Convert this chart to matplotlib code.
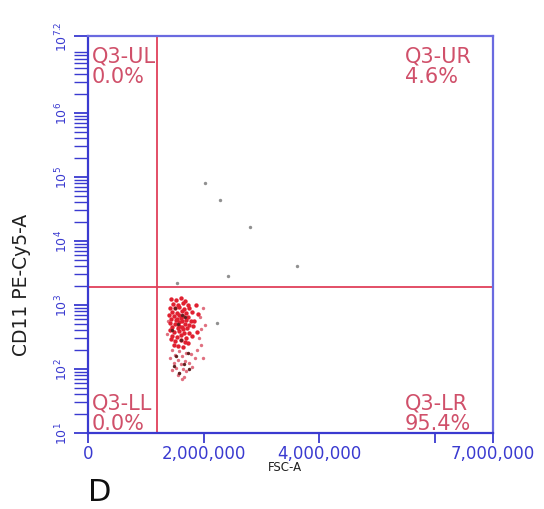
import numpy as np
import matplotlib
matplotlib.use('Agg')
import matplotlib.pyplot as plt
from matplotlib.ticker import FixedLocator, LogLocator, NullFormatter

plt.rcParams['font.family'] = 'DejaVu Sans'

# FSC-A (x) and CD11 PE-Cy5-A (y)
core_fsc = [1.43, 1.52, 1.60, 1.68, 1.47, 1.56, 1.64, 1.72, 1.41, 1.50, 1.58, 1.66, 1.75,
            1.45, 1.53, 1.62, 1.70, 1.80, 1.40, 1.48, 1.57, 1.65, 1.73, 1.44, 1.52, 1.60,
            1.69, 1.78, 1.42, 1.50, 1.58, 1.67, 1.75, 1.46, 1.55, 1.63, 1.71, 1.82, 1.41,
            1.49, 1.58, 1.66, 1.74, 1.45, 1.53, 1.61, 1.69, 1.79, 1.43, 1.51, 1.60, 1.68,
            1.48, 1.56, 1.64, 1.72, 1.54, 1.62, 1.57, 1.65, 1.86, 1.90, 1.84, 1.88]
core_cd11 = [1250, 1180, 1300, 1150, 1050, 1000, 1080, 980, 900, 880, 920, 860, 900,
             780, 760, 800, 740, 780, 690, 660, 700, 680, 650, 600, 580, 620,
             590, 560, 520, 500, 540, 510, 490, 450, 430, 460, 440, 470, 400,
             380, 390, 370, 360, 330, 320, 340, 310, 330, 290, 270, 280, 260,
             240, 230, 220, 250, 610, 560, 470, 420, 1000, 720, 560, 380]

tail_fsc = [1.45, 1.58, 1.70, 1.50, 1.62, 1.78, 1.42, 1.55, 1.67, 1.85, 1.48, 1.60, 1.74,
            1.52, 1.65, 1.80, 1.46, 1.58, 1.70, 1.55, 1.66, 1.62, 1.88, 1.96, 1.93, 1.92,
            1.38, 1.37, 1.98, 1.95, 2.02, 1.99]
tail_cd11 = [200, 190, 180, 165, 160, 170, 150, 140, 135, 150, 125, 118, 122,
             105, 100, 108, 95, 88, 92, 80, 75, 70, 200, 420, 650, 300,
             560, 350, 900, 240, 480, 150]

dark_fsc = [1.50, 1.62, 1.55, 1.68, 1.45, 1.60, 1.72, 1.52, 1.66, 1.48, 1.75, 1.58]
dark_cd11 = [900, 700, 500, 640, 400, 280, 180, 160, 120, 110, 100, 85]

out_fsc = [2.02, 2.28, 2.80, 3.61, 2.42, 1.54, 2.23]
out_cd11 = [81000, 43000, 16600, 4000, 2800, 2200, 525]

gate_x = 1.19e6
gate_y = 1900

quad_labels = ['Q3-UL\n0.0%', 'Q3-UR\n4.6%', 'Q3-LL\n0.0%', 'Q3-LR\n95.4%']

x_ticks = [0, 2e6, 4e6, 6e6, 7e6]
x_ticklabels = ['0', '2,000,000', '4,000,000', '', '7,000,000']
y_ticks = [1e1, 1e2, 1e3, 1e4, 1e5, 1e6, 10 ** 7.2]
y_ticklabels = ['$10^1$', '$10^2$', '$10^3$', '$10^4$', '$10^5$', '$10^6$', '$10^{7.2}$']

blue = '#3a3ad0'
red = '#e0405a'
txt_red = '#d0506a'

fig = plt.figure(figsize=(5.44, 5.10), dpi=100)
ax = fig.add_axes([88 / 544, 76 / 510, 405 / 544, 397 / 510])

ax.set_xlim(0, 7e6)
ax.set_yscale('log')
ax.set_ylim(10, 10 ** 7.2)

ax.scatter(np.array(tail_fsc) * 1e6, tail_cd11, s=6, color='#e07080', lw=0)
ax.scatter(np.array(core_fsc) * 1e6, core_cd11, s=10, color='#e02030', lw=0)
ax.scatter(np.array(dark_fsc) * 1e6, dark_cd11, s=6, color='#602020', lw=0)
ax.scatter(np.array(out_fsc) * 1e6, out_cd11, s=6, color='#909090', lw=0)

ax.axvline(gate_x, color=red, lw=1.3)
ax.axhline(gate_y, color=red, lw=1.3)

for s in ['left', 'bottom']:
    ax.spines[s].set_color(blue)
    ax.spines[s].set_linewidth(1.6)
for s in ['top', 'right']:
    ax.spines[s].set_color('#6a6ae0')
    ax.spines[s].set_linewidth(1.6)

ax.xaxis.set_major_locator(FixedLocator(x_ticks))
ax.set_xticklabels(x_ticklabels)
ax.yaxis.set_major_locator(FixedLocator(y_ticks))
ax.set_yticklabels(y_ticklabels, rotation=90, va='center')
ax.yaxis.set_minor_locator(LogLocator(base=10, subs=np.arange(2, 10), numticks=20))
ax.yaxis.set_minor_formatter(NullFormatter())

ax.tick_params(axis='x', colors=blue, labelsize=12, length=7, width=1.3, pad=1)
ax.tick_params(axis='y', which='major', colors=blue, labelsize=9, length=10, width=1.3, pad=3)
ax.tick_params(axis='y', which='minor', colors=blue, length=10, width=1.0)

tkw = dict(fontsize=15, color=txt_red, linespacing=1.0, transform=ax.transAxes)
ax.text(0.01, 0.975, quad_labels[0], ha='left', va='top', **tkw)
ax.text(0.783, 0.975, quad_labels[1], ha='left', va='top', **tkw)
ax.text(0.01, 0.0, quad_labels[2], ha='left', va='bottom', **tkw)
ax.text(0.783, 0.0, quad_labels[3], ha='left', va='bottom', **tkw)

fig.text(22 / 544, 1 - 285 / 510, 'CD11 PE-Cy5-A', rotation=90, ha='center', va='center',
         fontsize=13.5, color='#202020')
fig.text(285 / 544, 1 - 468 / 510, 'FSC-A', ha='center', va='center', fontsize=8.5, color='#202020')
fig.text(100 / 544, 1 - 478 / 510, 'D', ha='center', va='top', fontsize=22, color='#101010')

fig.savefig('out.png', dpi=100, facecolor='white')
